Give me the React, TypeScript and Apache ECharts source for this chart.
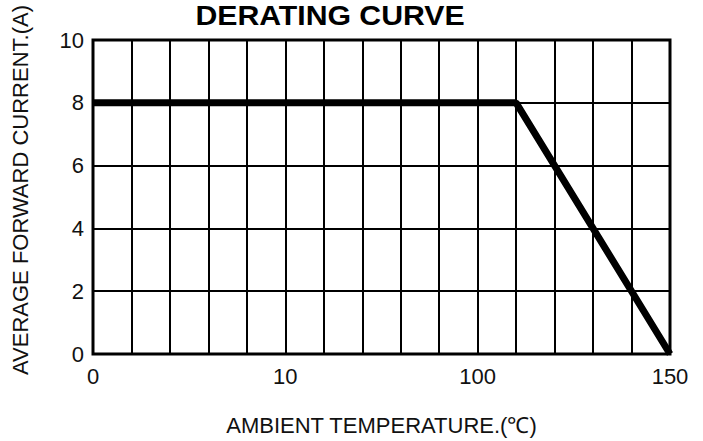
import React, { useEffect, useRef } from "react";
import * as echarts from "echarts";

const xTickPositions = [0, 5, 10, 15];
const xTickLabels = ["0", "10", "100", "150"];
const yTickValues = [0, 2, 4, 6, 8, 10];
const curveX = [0, 11, 15];
const curveY = [8, 8, 0];

const FONT = "'Liberation Sans', Arial, Helvetica, sans-serif";

export default function App() {
  const ref = useRef<HTMLDivElement>(null);
  useEffect(() => {
    if (!ref.current) return;
    const chart = echarts.init(ref.current, null, { renderer: "svg" });
    const data = curveX.map((x, i) => [x, curveY[i]]);
    chart.setOption({
      animation: false,
      backgroundColor: "#ffffff",
      grid: {
        left: 93,
        right: 33,
        top: 40,
        bottom: 78,
        show: true,
        borderColor: "#000",
        borderWidth: 3,
        z: 3,
      },
      graphic: [
        {
          type: "text",
          x: 330,
          y: 1,
          scaleX: 1.08,
          style: {
            text: "DERATING CURVE",
            font: `bold 28px ${FONT}`,
            fill: "#000",
            textAlign: "center",
            textVerticalAlign: "top",
          },
        },
        {
          type: "text",
          x: 20,
          y: 190,
          rotation: Math.PI / 2,
          style: {
            text: "AVERAGE FORWARD CURRENT.(A)",
            font: `22px ${FONT}`,
            fill: "#111",
            textAlign: "center",
            textVerticalAlign: "middle",
          },
        },
      ],
      xAxis: {
        type: "value",
        min: 0,
        max: 15,
        interval: 1,
        name: "AMBIENT TEMPERATURE.(\u2103)",
        nameLocation: "middle",
        nameGap: 60,
        nameTextStyle: { fontFamily: FONT, fontSize: 22, color: "#111" },
        axisLine: { show: false },
        axisTick: { show: false },
        splitLine: { show: true, lineStyle: { color: "#000", width: 2 } },
        axisLabel: {
          fontFamily: FONT,
          fontSize: 22,
          color: "#111",
          margin: 11,
          formatter: (v: number) => {
            const i = xTickPositions.indexOf(Math.round(v));
            return i >= 0 ? xTickLabels[i] : "";
          },
        },
      },
      yAxis: {
        type: "value",
        min: 0,
        max: 10,
        interval: 2,
        axisLine: { show: false },
        axisTick: { show: false },
        splitLine: { show: true, lineStyle: { color: "#000", width: 2 } },
        axisLabel: {
          fontFamily: FONT,
          fontSize: 22,
          color: "#111",
          margin: 9,
          formatter: (v: number) => (yTickValues.includes(v) ? String(v) : ""),
        },
      },
      series: [
        {
          type: "line",
          data,
          symbol: "none",
          lineStyle: { color: "#000", width: 7 },
          z: 5,
        },
      ],
    });
    return () => chart.dispose();
  }, []);
  return (
    <div
      ref={ref}
      style={{ position: "fixed", left: 0, top: 0, width: 703, height: 441 }}
    />
  );
}
